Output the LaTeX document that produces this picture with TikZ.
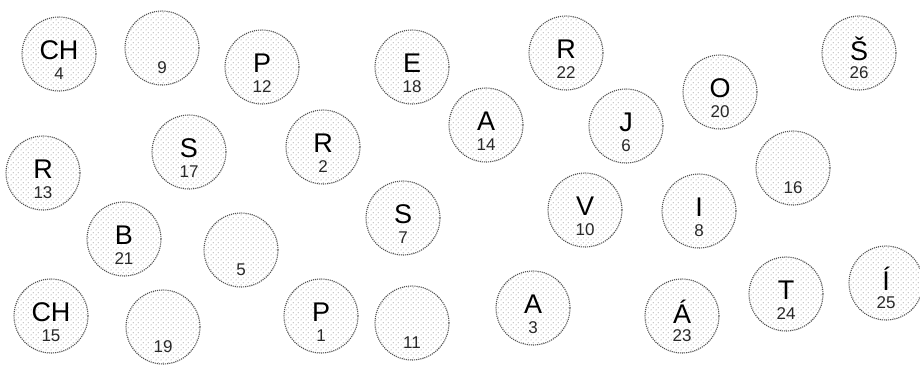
\documentclass[tikz,border=0pt]{standalone}
\usepackage{fontspec}
\setmainfont{Liberation Sans}
\usetikzlibrary{patterns.meta}
\definecolor{dotgray}{RGB}{105,105,105}
\definecolor{rimgray}{RGB}{80,80,80}
\definecolor{numgray}{RGB}{40,40,40}

\tikzdeclarepattern{
  name=pebbledots,
  type=uncolored,
  bottom left={(0pt,0pt)},
  top right={(5pt,5pt)},
  tile size={(5pt,5pt)},
  code={
    \fill (1.25pt,1.25pt) circle (0.55pt);
    \fill (3.75pt,3.75pt) circle (0.55pt);
  }
}

\tikzset{
  lettertxt/.style={font=\fontsize{27}{30}\selectfont, anchor=base, yshift=4pt},
  numtxt/.style={font=\fontsize{17}{20}\selectfont, text=numgray, anchor=base, yshift=-20pt},
  ball/.style 2 args={circle, minimum size=74pt, inner sep=0pt,
    draw=rimgray, densely dotted, line width=1.1pt,
    pattern={pebbledots}, pattern color=dotgray,
    label={[lettertxt]center:#1}, label={[numtxt]center:#2}}
}

\begin{document}
\begin{tikzpicture}[x=1pt, y=-1pt]
  \useasboundingbox (0,0) rectangle (920,365);
  % top row
  \node[ball={CH}{4}] (ch4) at (59,54) {};
  \node[ball={}{9}] (n9) at (162,48) {};
  \node[ball={P}{12}] (p12) at (262,67) {};
  \node[ball={E}{18}] (e18) at (412,67) {};
  \node[ball={R}{22}] (r22) at (566,53) {};
  \node[ball={Š}{26}] (s26) at (859,53) {};
  \node[ball={A}{14}] (a14) at (486,125) {};
  \node[ball={J}{6}] (j6) at (626,126) {};
  \node[ball={O}{20}] (o20) at (720,92) {};
  % middle
  \node[ball={R}{2}] (r2) at (323,147) {};
  \node[ball={S}{17}] (s17) at (189,152) {};
  \node[ball={R}{13}] (r13) at (43,173) {};
  \node[ball={}{16}] (n16) at (793,168) {};
  \node[ball={B}{21}] (b21) at (124,239) {};
  \node[ball={}{5}] (n5) at (241,250) {};
  \node[ball={S}{7}] (s7) at (403,218) {};
  \node[ball={V}{10}] (v10) at (585,210) {};
  \node[ball={I}{8}] (i8) at (699,211) {};
  % bottom row
  \node[ball={CH}{15}] (ch15) at (51,316) {};
  \node[ball={}{19}] (n19) at (163,327) {};
  \node[ball={P}{1}] (p1) at (321,316) {};
  \node[ball={}{11}] (n11) at (412,323) {};
  \node[ball={A}{3}] (a3) at (533,308) {};
  \node[ball={Á}{23}] (aa23) at (682,316) {};
  \node[ball={T}{24}] (t24) at (786,294) {};
  \node[ball={Í}{25}] (ii25) at (886,283) {};
\end{tikzpicture}
\end{document}
